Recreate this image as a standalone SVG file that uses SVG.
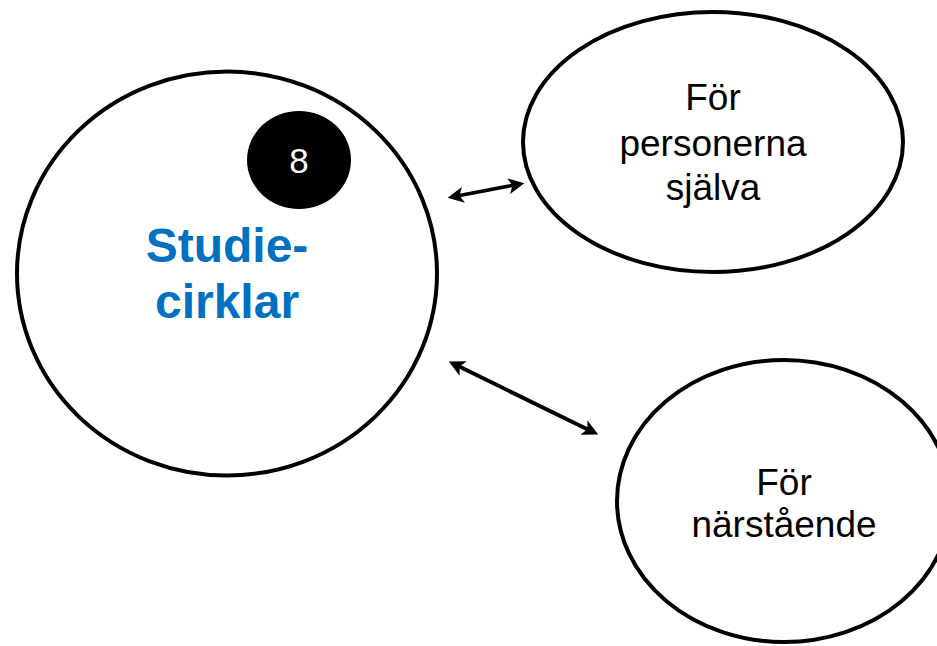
<svg xmlns="http://www.w3.org/2000/svg" width="937" height="646" viewBox="0 0 937 646">
  <style>
    .node { fill: #ffffff; stroke: #000000; stroke-width: 4; }
    .lbl { font-family: "Liberation Sans", Arial, sans-serif; font-size: 37px; fill: #000000; text-anchor: middle; }
    .main { font-family: "Liberation Sans", Arial, sans-serif; font-size: 48px; font-weight: bold; fill: #0070C0; text-anchor: middle; }
    .badge { font-family: "Liberation Sans", Arial, sans-serif; font-size: 35px; fill: #ffffff; text-anchor: middle; }
    .conn { stroke: #000000; fill: none; marker-start: url(#arr); marker-end: url(#arr); }
  </style>
  <defs>
    <marker id="arr" viewBox="0 0 10 10" refX="4.9" refY="5" markerUnits="userSpaceOnUse" markerWidth="17" markerHeight="16" orient="auto-start-reverse">
      <path d="M0,0 L10,5 L0,10 L2.5,5 z" fill="#000000"/>
    </marker>
  </defs>
  <rect width="937" height="646" fill="#ffffff"/>

  <g id="studiecirklar">
    <ellipse class="node" cx="227" cy="273.5" rx="210" ry="202"/>
    <text class="main" x="227" y="262">Studie-</text>
    <text class="main" x="227" y="318">cirklar</text>
  </g>

  <g id="badge8">
    <ellipse cx="299" cy="160" rx="52" ry="49" fill="#000000"/>
    <text class="badge" x="299" y="173">8</text>
  </g>

  <g id="personerna">
    <ellipse class="node" cx="713" cy="142" rx="190" ry="130"/>
    <text class="lbl" x="713" y="110">För</text>
    <text class="lbl" x="713" y="156">personerna</text>
    <text class="lbl" x="713" y="200">själva</text>
  </g>

  <g id="narstaende">
    <ellipse class="node" cx="784" cy="501" rx="167" ry="141"/>
    <text class="lbl" x="784" y="495">För</text>
    <text class="lbl" x="784" y="537">närstående</text>
  </g>

  <g id="connectors">
    <line class="conn" stroke-width="3.5" x1="455.7" y1="196.3" x2="516.3" y2="184.7"/>
    <line class="conn" stroke-width="4" x1="456.1" y1="365.0" x2="590.9" y2="431.0"/>
  </g>
</svg>
